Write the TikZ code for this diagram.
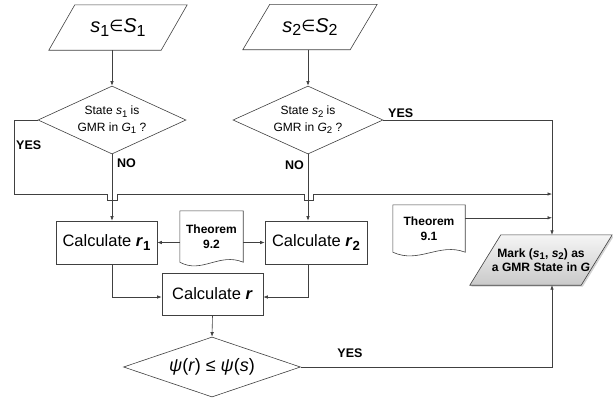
\documentclass[tikz,border=0pt]{standalone}
\usepackage{fontspec}
\setmainfont{Liberation Sans}
\newfontfamily\dejavu{DejaVu Sans}
\usepackage{graphicx}
\usetikzlibrary{shapes.geometric,arrows.meta,shadows,backgrounds}

\newcommand{\lowsub}[1]{\raisebox{-0.35ex}{\scalebox{0.8}{#1}}}
\newcommand{\isin}{\raisebox{0.1ex}{\scalebox{0.8}{\dejavu ∈}}}

\begin{document}
\begin{tikzpicture}[x=1pt,y=-1pt,
  line/.style={draw=black!75, line width=0.6pt},
  arr/.style={line, -{Latex[length=4.5pt,width=3.5pt]}},
  slab/.style={rectangle, inner sep=0pt, align=center},
  given/.style={slab, minimum height=45pt, font=\fontsize{20}{24}\selectfont},
  test/.style={diamond, line, inner sep=0pt, align=center,
    font=\fontsize{12}{16.5}\selectfont},
  calc/.style={rectangle, line, minimum width=101pt, minimum height=43pt,
    font=\fontsize{16.5}{20}\selectfont},
  docu/.style={minimum width=63pt, minimum height=51pt, align=center,
    inner sep=0pt, font=\fontsize{12}{15}\selectfont\bfseries},
  answer/.style={font=\fontsize{12.5}{15}\selectfont\bfseries, inner sep=0pt}
]
\useasboundingbox (0,0) rectangle (613,400);

% The inputs and tests
\node[given, minimum width=112pt] (in1) at (118,27.5)
  {\textit{s}\lowsub{1}\isin\textit{S}\lowsub{1}};
\node[given, minimum width=107pt] (in2) at (310,27)
  {\textit{s}\lowsub{2}\isin\textit{S}\lowsub{2}};
\draw[line] ([xshift=-13pt]in1.south west) -- ([xshift=13pt]in1.north west)
  -- ([xshift=13pt]in1.north east) -- ([xshift=-13pt]in1.south east) -- cycle;
\draw[line] ([xshift=-13.5pt]in2.south west) -- ([xshift=13.5pt]in2.north west)
  -- ([xshift=13.5pt]in2.north east) -- ([xshift=-13.5pt]in2.south east) -- cycle;
\node[test, aspect=2.2, minimum width=148pt, minimum height=68pt] (dec1) at (112,120)
  {State \textit{s}\lowsub{1} is\\GMR in \textit{G}\lowsub{1} ?};
\node[test, aspect=2.2, minimum width=150pt, minimum height=68pt] (dec2) at (308,120)
  {State \textit{s}\lowsub{2} is\\GMR in \textit{G}\lowsub{2} ?};

% The calculations
\node[calc] (calc1) at (106.5,242.5) {Calculate \textbf{\textit{r}\lowsub{1}}};
\node[calc, minimum width=102pt] (calc2) at (316,242.5) {Calculate \textbf{\textit{r}\lowsub{2}}};
\node[docu] (thm2) at (211.5,236.5) {Theorem\\9.2};
\node[calc, minimum height=42pt] (calcr) at (212.5,294) {Calculate \textbf{\textit{r}}};
\node[test, aspect=2.9, minimum width=177pt, minimum height=60pt, font=\fontsize{18}{20}\selectfont]
  (psi) at (212,367) {\textit{ψ}(\textit{r}) ≤ \textit{ψ}(\textit{s})};

% The result
\node[docu, minimum width=72pt, minimum height=47pt] (thm1) at (429,228.5) {Theorem\\9.1};
\node[slab, minimum width=111pt, minimum height=50pt,
  font=\fontsize{12.1}{14.5}\selectfont\bfseries]
  (mark) at (541,260) {Mark (\textit{s}\lowsub{1}, \textit{s}\lowsub{2}) as\\a GMR State in \textit{G}};
\begin{scope}[on background layer]
\path[line, top color=gray!8, bottom color=gray!42,
  drop shadow={shadow xshift=1.5pt, shadow yshift=-1.5pt, fill=black!35}]
  ([xshift=-15.5pt]mark.south west) -- ([xshift=15.5pt]mark.north west)
  -- ([xshift=15.5pt]mark.north east) -- ([xshift=-15.5pt]mark.south east) -- cycle;
\end{scope}

% The documents
\draw[line] (thm2.south west) |- (thm2.north east) -- (thm2.south east)
  .. controls +(-24,-10) and +(22,12) .. (thm2.south west);
\draw[line] (thm1.south west) |- (thm1.north east) -- (thm1.south east)
  .. controls +(-26,-10) and +(26,12) .. (thm1.south west);

% The connectors
\coordinate (rail) at (552,0);
\coordinate (edge) at (14,0);
\coordinate (bus) at (0,194);
\draw[arr] (dec1.north |- in1.south) -- (dec1.north);
\draw[arr] (dec2.north |- in2.south) -- (dec2.north);
\draw[arr] (dec1.south) -- (dec1.south |- calc1.north);
\draw[arr] (dec2.south) -- (dec2.south |- calc2.north);
\draw[arr] (dec1.west) -| (edge |- bus)
  -- ([xshift=-5pt]dec1.south |- bus) -- ++(0,6) -- ++(10,0) -- ++(0,-6)
  -- ([xshift=-4pt]dec2.south |- bus) -- ++(0,6) -- ++(9,0) -- ++(0,-6)
  -- (rail |- bus);
\draw[arr] (dec2.east) -| (rail |- mark.north);
\draw[arr] ([yshift=-13pt]thm1.north east) coordinate (t1) -- (t1 -| rail);
\draw[arr] (thm2.west |- calc1.east) -- (calc1.east);
\draw[arr] (thm2.east |- calc2.west) -- (calc2.west);
\draw[arr] (dec1.south |- calc1.south) |- ([yshift=-3pt]calcr.west);
\draw[arr] (dec2.south |- calc2.south) |- ([yshift=-3pt]calcr.east);
\draw[arr] (calcr.south) -- (psi.north);
\draw[arr] (psi.east) -| (rail |- mark.south);

% The labels
\node[answer, anchor=west] (yes1) at (16,145) {YES};
\node[answer, anchor=west] (no1) at (117,163) {NO};
\node[answer, anchor=east] (no2) at (304,165) {NO};
\node[answer, anchor=west] (yes2) at (388,113) {YES};
\node[answer] (yes3) at (350,353) {YES};
\end{tikzpicture}
\end{document}
